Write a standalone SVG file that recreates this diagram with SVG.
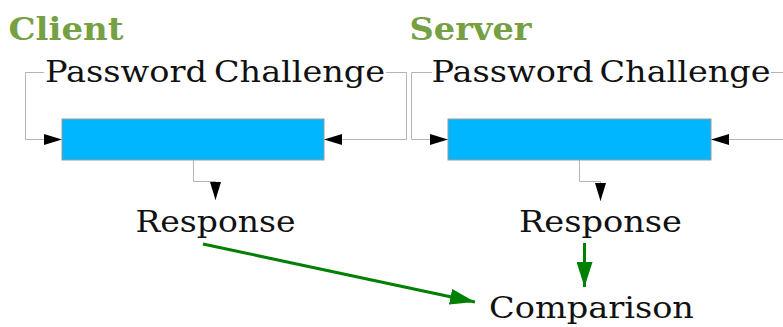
<svg xmlns="http://www.w3.org/2000/svg" width="783" height="327" viewBox="0 0 783 327">
  <style>
    .title { font-family: "DejaVu Serif", serif; font-weight: bold; font-size: 32px; fill: #76a043; }
    .label { font-family: "DejaVu Serif", serif; font-size: 30px; fill: #111111; }
    .box { fill: #00b6ff; stroke: #9a9a9a; stroke-width: 1; }
    .wire { fill: none; stroke: #b4b4b4; stroke-width: 1; }
    .flow { fill: none; stroke: #008000; stroke-width: 3; }
  </style>
  <defs>
    <marker id="arrowBlack" markerUnits="userSpaceOnUse" markerWidth="18" markerHeight="11" refX="18" refY="5.5" orient="auto">
      <path d="M0,0 L18,5.5 L0,11 Z" fill="#000000"/>
    </marker>
    <marker id="arrowGreen" markerUnits="userSpaceOnUse" markerWidth="25" markerHeight="16" refX="25" refY="8" orient="auto">
      <path d="M0,0 L25,8 L0,16 Z" fill="#008000"/>
    </marker>
  </defs>

  <!-- section titles -->
  <text class="title" x="8.5" y="40" textLength="115" lengthAdjust="spacingAndGlyphs">Client</text>
  <text class="title" x="409.5" y="40" textLength="122" lengthAdjust="spacingAndGlyphs">Server</text>

  <!-- connectors -->
  <g id="connectors">
    <path class="wire" d="M44,72.5 H25.5 V139.5 H62" marker-end="url(#arrowBlack)"/>
    <path class="wire" d="M386,72.5 H406.5 V139.5 H324" marker-end="url(#arrowBlack)"/>
    <path class="wire" d="M193.5,160 V181.5 H215.5 V200" marker-end="url(#arrowBlack)"/>
    <path class="wire" d="M432,72.5 H411.5 V139.5 H448" marker-end="url(#arrowBlack)"/>
    <path class="wire" d="M771,72.5 H790 V139.5 H711" marker-end="url(#arrowBlack)"/>
    <path class="wire" d="M579.5,160 V181.5 H600.5 V201" marker-end="url(#arrowBlack)"/>
    <path class="flow" d="M203,244 L475,302" marker-end="url(#arrowGreen)"/>
    <path class="flow" d="M584.5,243 V287" marker-end="url(#arrowGreen)"/>
  </g>

  <!-- client side -->
  <g id="client-password">
    <text class="label" x="45" y="82" textLength="162" lengthAdjust="spacingAndGlyphs">Password</text>
  </g>
  <g id="client-challenge">
    <text class="label" x="214" y="82" textLength="171" lengthAdjust="spacingAndGlyphs">Challenge</text>
  </g>
  <g id="client-hash">
    <rect class="box" x="62" y="119" width="262" height="41"/>
  </g>
  <g id="client-response">
    <text class="label" x="135.5" y="232" textLength="160" lengthAdjust="spacingAndGlyphs">Response</text>
  </g>

  <!-- server side -->
  <g id="server-password">
    <text class="label" x="431.5" y="82" textLength="162" lengthAdjust="spacingAndGlyphs">Password</text>
  </g>
  <g id="server-challenge">
    <text class="label" x="599.5" y="82" textLength="171" lengthAdjust="spacingAndGlyphs">Challenge</text>
  </g>
  <g id="server-hash">
    <rect class="box" x="448" y="119" width="263" height="41"/>
  </g>
  <g id="server-response">
    <text class="label" x="519" y="232" textLength="163" lengthAdjust="spacingAndGlyphs">Response</text>
  </g>

  <g id="comparison">
    <text class="label" x="489" y="318" textLength="205" lengthAdjust="spacingAndGlyphs">Comparison</text>
  </g>
</svg>
